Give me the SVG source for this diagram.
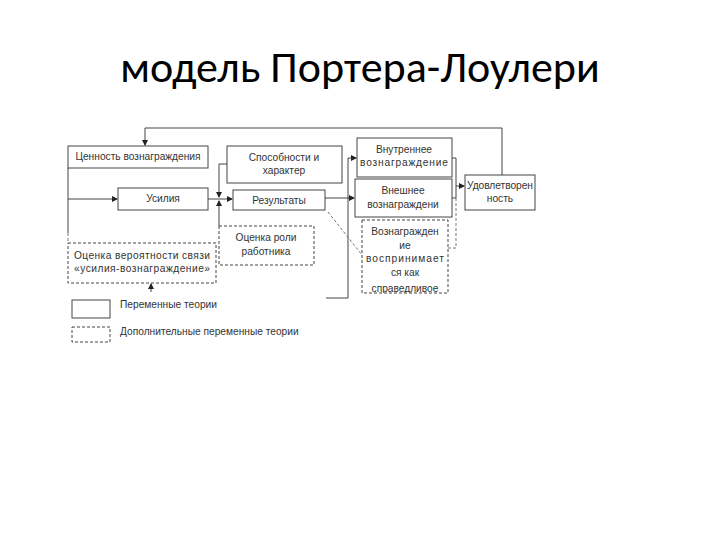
<svg xmlns="http://www.w3.org/2000/svg" width="720" height="540" viewBox="0 0 720 540">
<style>
.b{fill:#fff;stroke:#444;stroke-width:1}
.d{fill:#fff;stroke:#444;stroke-width:1;stroke-dasharray:3,2}
.t{font-family:"Liberation Sans",Arial,sans-serif;font-size:10.2px;fill:#333;text-anchor:middle}
.l{fill:none;stroke:#444;stroke-width:1}
.ld{fill:none;stroke:#777;stroke-width:1;stroke-dasharray:3,2}
</style>
<defs>
<marker id="a" markerWidth="6" markerHeight="6" refX="5" refY="3" orient="auto" markerUnits="userSpaceOnUse"><path d="M0,0L6,3L0,6z" fill="#222"/></marker>
<clipPath id="c"><rect x="362" y="220" width="86" height="73"/></clipPath>
</defs>
<rect width="720" height="540" fill="#fff"/>
<text x="360" y="82" font-family="Carlito,'Open Sans',sans-serif" font-size="44" font-weight="300" fill="#000" text-anchor="middle">модель Портера-Лоулери</text>
<g id="connectors">
<path class="l" d="M502,175V128H145V145" marker-end="url(#a)"/>
<path class="l" d="M68,168V233"/>
<path class="ld" d="M68,233V243"/>
<path class="l" d="M68,199H117" marker-end="url(#a)"/>
<path class="l" d="M208,199H232" marker-end="url(#a)"/>
<path class="l" d="M227,164H219V197" marker-end="url(#a)"/>
<path class="l" d="M219,226V201" marker-end="url(#a)"/>
<path class="l" d="M151,292V284" marker-end="url(#a)"/>
<path class="l" d="M325,198H354" marker-end="url(#a)"/>
<path class="l" d="M326,298H348V158H356" marker-end="url(#a)"/>
<path class="ld" d="M328,212L362,255"/>
<path class="l" d="M452,158H456V198M452,198H456"/>
<path class="ld" d="M456,198V248H448"/>
<path class="l" d="M456,186H464" marker-end="url(#a)"/>
</g>
<g id="n1"><rect class="b" x="68" y="146" width="140" height="22"/><text class="t" x="138" y="160">Ценность вознаграждения</text></g>
<g id="n2"><rect class="b" x="227" y="146" width="115" height="37"/><text class="t" x="284" y="161">Способности и</text><text class="t" x="284" y="174">характер</text></g>
<g id="n3"><rect class="b" x="118" y="188" width="90" height="22"/><text class="t" x="163" y="202">Усилия</text></g>
<g id="n4"><rect class="b" x="233" y="190" width="92" height="20"/><text class="t" x="279" y="204">Результаты</text></g>
<g id="n5"><rect class="d" x="219" y="226" width="95" height="39"/><text class="t" x="266" y="241">Оценка роли</text><text class="t" x="266" y="255">работника</text></g>
<g id="n6"><rect class="d" x="68" y="243" width="148" height="40"/><text class="t" x="142" y="259" textLength="136">Оценка вероятности связи</text><text class="t" x="142" y="272" textLength="136">«усилия-вознаграждение»</text></g>
<g id="n7"><rect class="b" x="357" y="138" width="95" height="39"/><text class="t" x="404" y="153">Внутреннее</text><text class="t" x="404" y="166" textLength="88">вознаграждение</text></g>
<g id="n8"><rect class="b" x="355" y="179" width="97" height="38"/><text class="t" x="403" y="194">Внешнее</text><text class="t" x="403" y="208">вознаграждени</text></g>
<g id="n9"><rect class="d" x="362" y="220" width="86" height="73"/><g clip-path="url(#c)"><text class="t" x="405" y="235">Вознагражден</text><text class="t" x="405" y="249">ие</text><text class="t" x="405" y="262" textLength="78">воспринимает</text><text class="t" x="405" y="276">ся как</text><text class="t" x="405" y="292">справедливое</text></g></g>
<g id="n10"><rect class="b" x="465" y="175" width="70" height="35"/><text class="t" x="500" y="189" textLength="66">Удовлетворен</text><text class="t" x="500" y="202">ность</text></g>
<g id="legend">
<rect class="b" x="72" y="300" width="38" height="18"/><text class="t" x="120" y="308" style="text-anchor:start">Переменные теории</text>
<rect class="d" x="72" y="327" width="38" height="15"/><text class="t" x="120" y="335" style="text-anchor:start">Дополнительные переменные теории</text>
</g>
</svg>
